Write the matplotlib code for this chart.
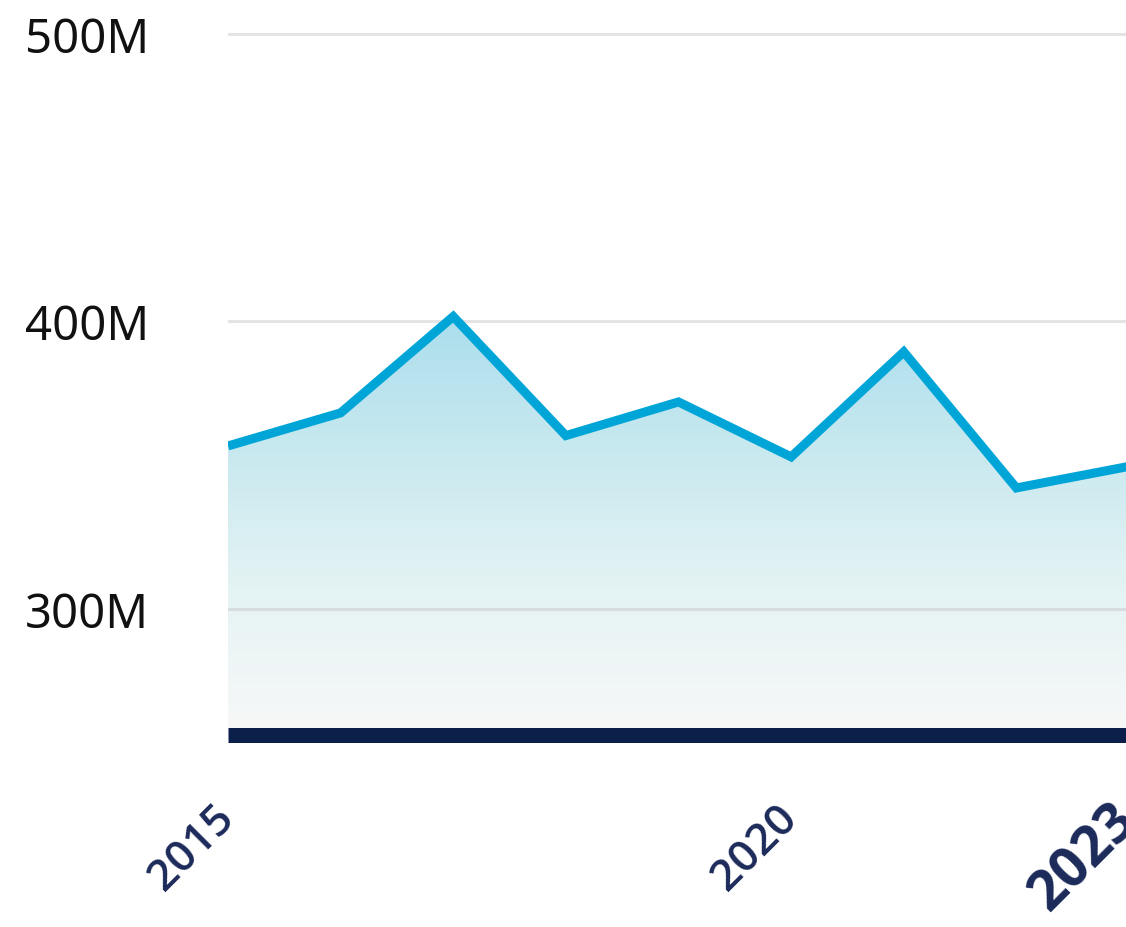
import matplotlib
matplotlib.use('Agg')
import matplotlib.pyplot as plt
import numpy as np
from matplotlib.colors import LinearSegmentedColormap

# datos (millones)
years = [2015, 2016, 2017, 2018, 2019, 2020, 2021, 2022, 2023]
values = [356.6, 368.1, 401.6, 360.2, 371.9, 352.8, 389.3, 342.0, 349.5]
y_ticks = [300, 400, 500]
y_tick_labels = ['300M', '400M', '500M']
x_ticks = [2015, 2020, 2023]
x_tick_labels = ['2015', '2020', '2023']

plt.rcParams['font.family'] = ['Noto Sans', 'DejaVu Sans']

fig = plt.figure(figsize=(11.26, 9.28), dpi=100)
ax = fig.add_axes([228 / 1126, 192 / 928, 901 / 1126, 736 / 928])

y_min, y_max = 256.1, 512.0
ax.set_xlim(2015, 2023)
ax.set_ylim(y_min, y_max)

# relleno con degradado, recortado por el poligono del area
cmap = LinearSegmentedColormap.from_list(
    'fade', ['#f8f8f8', '#e4f3f4', '#c6e8ef', '#a6dced'])
grad = np.linspace(0, 1, 256).reshape(-1, 1)
poly = ax.fill_between(years, values, y_min, color='none', lw=0)
img = ax.imshow(grad, cmap=cmap, aspect='auto', origin='lower',
                extent=[2015, 2023, y_min, 410], zorder=1)
img.set_clip_path(poly.get_paths()[0], transform=ax.transData)

# lineas de cuadricula
for yv in y_ticks:
    ax.axhline(yv, color='#c4c4c4', lw=2.2, alpha=0.45, zorder=2)

# linea principal
ax.plot(years, values, color='#00a5d8', lw=6.5, solid_joinstyle='miter',
        solid_capstyle='butt', zorder=3)

# ejes
for s in ['top', 'right', 'left']:
    ax.spines[s].set_visible(False)
ax.spines['bottom'].set_color('#0b1f4b')
ax.spines['bottom'].set_linewidth(10.8)
ax.spines['bottom'].set_capstyle('butt')
ax.spines['bottom'].set_zorder(4)

ax.set_yticks(y_ticks)
ax.set_yticklabels(y_tick_labels, fontsize=34, color='#111111')
ax.tick_params(axis='y', length=0, pad=146)
for lbl in ax.get_yticklabels():
    lbl.set_horizontalalignment('left')

ax.set_xticks(x_ticks)
ax.set_xticklabels(x_tick_labels, fontsize=32, color='#1c2a5a',
                   family=['Open Sans', 'DejaVu Sans'],
                   fontweight='semibold', rotation=45, ha='right',
                   va='center', rotation_mode='anchor')
ax.tick_params(axis='x', length=0, pad=55)
last = ax.get_xticklabels()[-1]
last.set_fontsize(40)
last.set_fontweight('bold')

fig.savefig('out.png', dpi=100)
